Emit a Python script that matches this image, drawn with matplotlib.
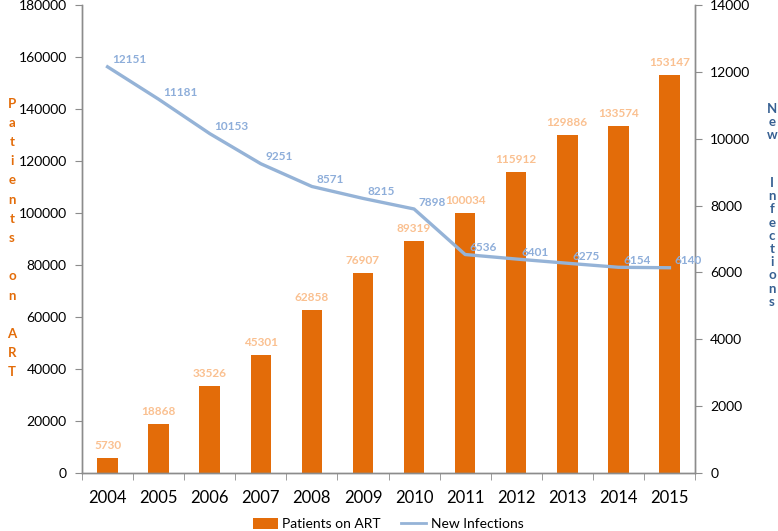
import matplotlib
matplotlib.use("Agg")
import matplotlib.pyplot as plt
from matplotlib.patches import Patch
from matplotlib.lines import Line2D
import numpy as np

years = ["2004", "2005", "2006", "2007", "2008", "2009", "2010", "2011", "2012", "2013", "2014", "2015"]
patients_on_art = [5730, 18868, 33526, 45301, 62858, 76907, 89319, 100034, 115912, 129886, 133574, 153147]
new_infections = [12151, 11181, 10153, 9251, 8571, 8215, 7898, 6536, 6401, 6275, 6154, 6140]

plt.rcParams['font.family'] = ['Lato', 'DejaVu Sans']

BAR = "#E36C09"
BAR_LBL = "#FAC090"
LINE = "#95B3D7"
LINE_LBL = "#8EAEDA"
RIGHT_LBL = "#376092"
SPINE = "#8C8C8C"

fig = plt.figure(figsize=(7.78, 5.31), dpi=100)
ax = fig.add_axes([82/778, 58/531, (695-82)/778, (473-5)/531])
ax2 = ax.twinx()

x = np.arange(len(years))
bars = ax.bar(x, patients_on_art, width=0.4, color=BAR, zorder=2)
ax.set_ylim(0, 180000)
ax.set_xlim(-0.5, len(years) - 0.5)
ax.set_yticks(np.arange(0, 180001, 20000))
ax.set_xticks(x)
ax.set_xticklabels(years, fontsize=12)
ax.set_xticks(np.arange(-0.5, len(years), 1), minor=True)
ax.tick_params(axis='x', which='major', length=0, pad=12, colors='black')
ax.tick_params(axis='x', which='minor', length=5, color=SPINE, direction='out')
ax.tick_params(axis='y', length=5, color=SPINE, labelsize=10, pad=6)

for xi, v in zip(x, patients_on_art):
    ax.annotate(str(v), (xi, v), xytext=(0, 5), textcoords='offset points',
                ha='center', va='bottom', fontsize=8.5, fontweight='bold', color=BAR_LBL)

ax2.plot(x, new_infections, color=LINE, lw=2.4, zorder=3)
ax2.set_ylim(0, 14000)
ax2.set_yticks(np.arange(0, 14001, 2000))
ax2.tick_params(axis='y', length=5, color=SPINE, labelsize=10, pad=6)
for xi, v in zip(x, new_infections):
    ax2.annotate(str(v), (xi, v), xytext=(3.5, 5), textcoords='offset points',
                 ha='left', va='center', fontsize=8.5, fontweight='bold', color=LINE_LBL)

for a in (ax, ax2):
    a.spines['top'].set_visible(False)
    for s in ('left', 'right', 'bottom'):
        a.spines[s].set_color(SPINE)
        a.spines[s].set_linewidth(1.0)

# stacked-letter axis titles
fig.text(12/778, 1 - 238/531, "\n".join("Patients on ART"), ha='center', va='center',
         fontsize=9.5, fontweight='bold', color=BAR, linespacing=1.72)
fig.text(772/778, 1 - 103/531, "\n".join("New"), ha='center', va='top',
         fontsize=9.5, fontweight='bold', color=RIGHT_LBL, linespacing=1.12)
fig.text(772/778, 1 - 177/531, "\n".join("Infections"), ha='center', va='top',
         fontsize=9.5, fontweight='bold', color=RIGHT_LBL, linespacing=1.12)

handles = [Patch(facecolor=BAR, edgecolor='none', label='Patients on ART'),
           Line2D([0], [0], color=LINE, lw=2, label='New Infections')]
fig.legend(handles=handles, loc='center', bbox_to_anchor=(388/778, 1 - 524/531),
           ncol=2, frameon=False, fontsize=10, handlelength=1.8, handleheight=0.9,
           columnspacing=1.5, handletextpad=0.3)

fig.savefig("out.png", dpi=100)
